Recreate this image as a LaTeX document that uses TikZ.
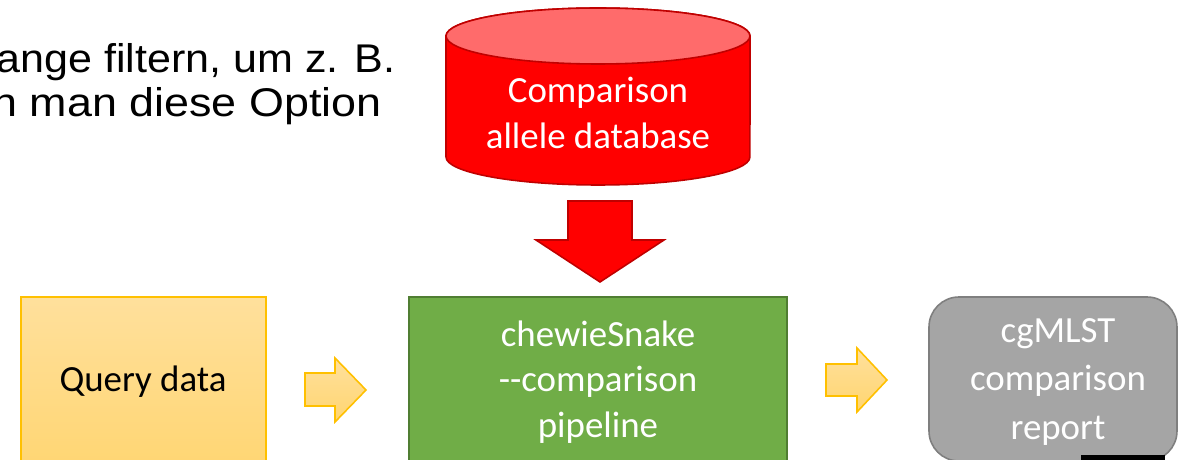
\documentclass[tikz,border=0pt]{standalone}
\usepackage{fontspec}
\setmainfont{Carlito}
\newfontfamily\arialfont{Liberation Sans}
\definecolor{dbred}{HTML}{FF0000}
\definecolor{dbtop}{HTML}{FF6B6B}
\definecolor{dbline}{HTML}{C00000}
\definecolor{pipegreen}{HTML}{70AD47}
\definecolor{pipeline}{HTML}{507E32}
\definecolor{qtop}{HTML}{FFE09C}
\definecolor{qbot}{HTML}{FFD570}
\definecolor{qline}{HTML}{FFC000}
\definecolor{repgray}{HTML}{A5A5A5}
\definecolor{repline}{HTML}{7F7F7F}
\tikzset{
  calib/.style={font=\fontsize{21}{26}\selectfont, align=center, inner sep=0pt},
  whitetext/.style={calib, text=white},
  bodytext/.style={font=\arialfont\fontsize{22.8}{27}\selectfont, anchor=base west, inner sep=0pt},
  yellowshape/.style={top color=qtop, bottom color=qbot, draw=qline, line width=0.9pt, line join=miter},
}
\begin{document}
\begin{tikzpicture}[x=0.02cm,y=0.02cm]
\useasboundingbox (0,0) rectangle (1178,460);
\clip (0,0) rectangle (1178,460);
\fill[white] (0,0) rectangle (1178,460);
% top-left clipped text
\node[bodytext, xscale=1.075] (t1) at (-4,387) {ange filtern, um z. B.};
\node[bodytext, xscale=1.12] (t2) at (-8,343) {n man diese Option};
% database cylinder
\filldraw[fill=dbred, draw=dbline, line width=0.9pt]
  (446,424) -- (446,303) arc[start angle=180, end angle=360, x radius=3.04cm, y radius=0.56cm]
  -- (750,424) arc[start angle=0, end angle=180, x radius=3.04cm, y radius=0.56cm] -- cycle;
\filldraw[fill=dbtop, draw=dbline, line width=0.9pt] (598,424) ellipse[x radius=3.04cm, y radius=0.56cm];
\node[whitetext] (db) at (598,347) {Comparison\\allele database};
% down arrow
\filldraw[fill=dbred, draw=dbline, line width=0.9pt, line join=miter]
  (568,259) -- (632,259) -- (632,220) -- (664,220) -- (600,178) -- (536,220) -- (568,220) -- cycle;
% query data box
\path[yellowshape] (21,163) rectangle (266,-20);
\node[calib] (query) at (143,78) {Query data};
% arrow 1
\path[yellowshape] (305,87) -- (335,87) -- (335,102) -- (366,70) -- (335,38) -- (335,54) -- (305,54) -- cycle;
% pipeline box
\filldraw[fill=pipegreen, draw=pipeline, line width=0.9pt] (409,163) rectangle (787,-20);
\node[whitetext] (pipe) at (598,78) {chewieSnake\\{-}{-}comparison\\pipeline};
% arrow 2
\path[yellowshape] (826,96) -- (857,96) -- (857,112) -- (887,80) -- (857,48) -- (857,64) -- (826,64) -- cycle;
% report box
\filldraw[fill=repgray, draw=repline, line width=0.9pt, rounded corners=0.6cm] (929,163) rectangle (1177,-1);
\node[whitetext, font=\fontsize{21}{27.5}\selectfont] (report) at (1058,78) {cgMLST\\comparison\\report};
% black strip
\fill[black] (1081,-1) rectangle (1165,5);
\end{tikzpicture}
\end{document}
